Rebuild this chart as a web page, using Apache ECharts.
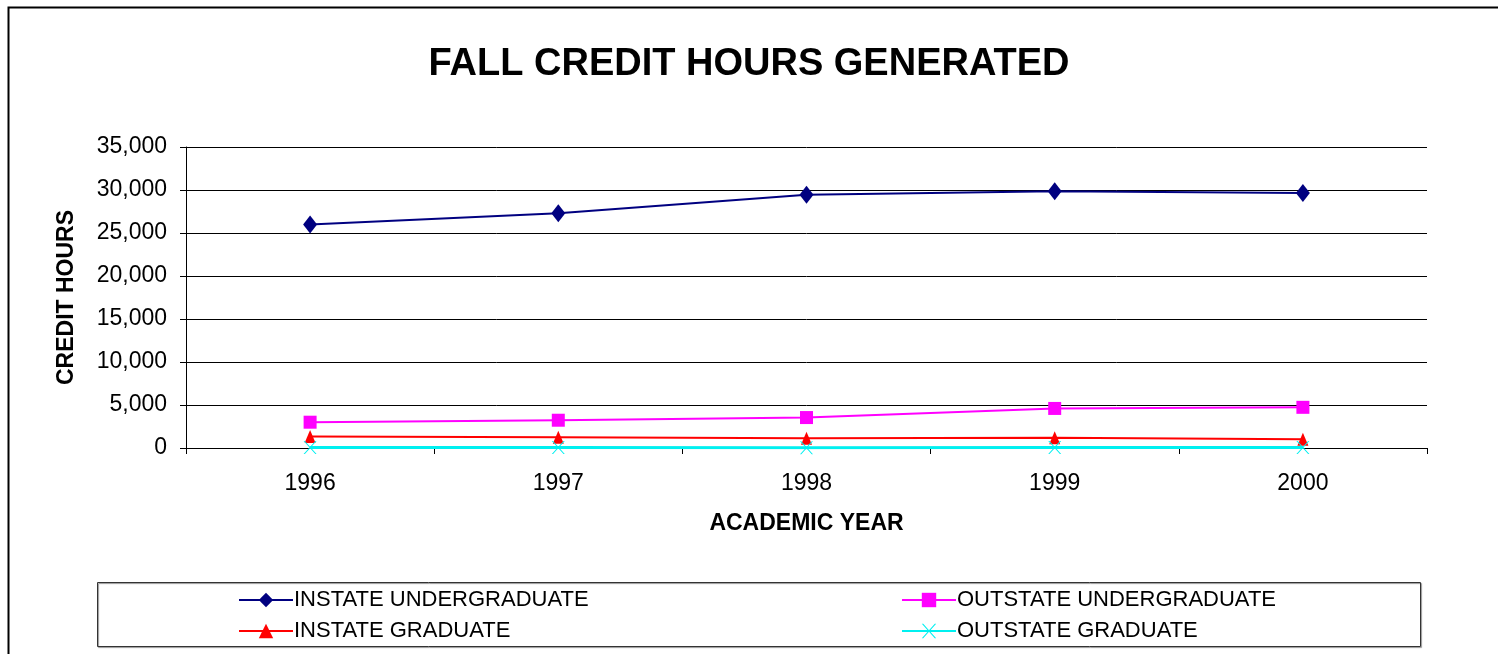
<!DOCTYPE html>
<html lang="en">
<head>
	<meta charset="utf-8">
	<title>Fall Credit Hours Generated</title>
	<script src="https://cdn.jsdelivr.net/npm/echarts@6/dist/echarts.min.js"></script>
	<style>
		html, body { margin: 0; padding: 0; background: #fff; }
		#chart { width: 1498px; height: 654px; }
	</style>
</head>
<body>
<div id="chart"></div>
<script>
// values
var years = ['1996', '1997', '1998', '1999', '2000'];
var instateUndergrad = [26000, 27300, 29450, 29850, 29650];
var outstateUndergrad = [3000, 3230, 3540, 4600, 4730];
var instateGrad = [1340, 1260, 1140, 1180, 1020];
var outstateGrad = [60, 50, 40, 50, 50];
var yTicks = [0, 5000, 10000, 15000, 20000, 25000, 30000, 35000];

var font = '"Liberation Sans", Arial, sans-serif';

function lineSeries(name, data, color, symbol, size, width) {
	return {
		name: name,
		type: 'line',
		data: data,
		symbol: symbol,
		symbolSize: size,
		lineStyle: { color: color, width: width || 2 },
		itemStyle: { color: color },
		animation: false
	};
}

function legendAt(name, left, top) {
	return {
		data: [name],
		left: left,
		top: top,
		itemWidth: 54,
		itemHeight: 18,
		itemGap: 0,
		textStyle: { fontFamily: font, fontSize: 22, color: '#000', padding: [0, 0, 0, -4] }
	};
}

echarts.init(document.getElementById('chart')).setOption({
	backgroundColor: '#fff',
	title: {
		text: 'FALL CREDIT HOURS GENERATED',
		left: 'center',
		top: 41,
		textStyle: { fontFamily: font, fontSize: 38, fontWeight: 'bold', color: '#000' }
	},
	grid: { left: 186, right: 71, top: 147, bottom: 206 },
	xAxis: {
		type: 'category',
		data: years,
		boundaryGap: true,
		name: 'ACADEMIC YEAR',
		nameLocation: 'middle',
		nameGap: 64,
		nameTextStyle: { fontFamily: font, fontSize: 23, fontWeight: 'bold', color: '#000' },
		axisLine: { lineStyle: { color: '#000', width: 1 } },
		axisTick: { show: true, inside: false, length: 6, lineStyle: { color: '#000' } },
		axisLabel: { fontFamily: font, fontSize: 23, color: '#000', margin: 24 },
		splitLine: { show: false }
	},
	yAxis: {
		type: 'value',
		min: yTicks[0],
		max: yTicks[yTicks.length - 1],
		interval: 5000,
		name: 'CREDIT HOURS',
		nameLocation: 'middle',
		nameGap: 108,
		nameRotate: 90,
		nameTextStyle: { fontFamily: font, fontSize: 23, fontWeight: 'bold', color: '#000' },
		axisLine: { show: true, lineStyle: { color: '#000', width: 1 } },
		axisTick: { show: true, length: 6, lineStyle: { color: '#000' } },
		axisLabel: {
			fontFamily: font, fontSize: 23, color: '#000', margin: 19,
			formatter: function (v) { return v.toLocaleString('en-US'); }
		},
		splitLine: { show: true, lineStyle: { color: '#000', width: 1 } }
	},
	legend: [
		legendAt('INSTATE UNDERGRADUATE', 233, 584),
		legendAt('OUTSTATE UNDERGRADUATE', 896, 584),
		legendAt('INSTATE GRADUATE', 233, 615),
		legendAt('OUTSTATE GRADUATE', 896, 615)
	],
	graphic: [
		{
			type: 'rect',
			shape: { x: 8.5, y: 7.5, width: 1600, height: 800 },
			style: { fill: 'none', stroke: '#000', lineWidth: 2 },
			silent: true
		},
		{
			type: 'rect',
			shape: { x: 97.5, y: 582.5, width: 1323, height: 64 },
			style: { fill: 'none', stroke: '#333', lineWidth: 1, shadowColor: 'rgba(0,0,0,0.45)', shadowOffsetX: 1, shadowOffsetY: 1, shadowBlur: 1 },
			silent: true
		}
	],
	series: [
		lineSeries('INSTATE UNDERGRADUATE', instateUndergrad, '#000080', 'diamond', [14, 18]),
		lineSeries('OUTSTATE UNDERGRADUATE', outstateUndergrad, '#ff00ff', 'rect', 13),
		lineSeries('INSTATE GRADUATE', instateGrad, '#ff0000', 'triangle', [11, 13]),
		lineSeries('OUTSTATE GRADUATE', outstateGrad, '#00f0f0',
			'path://M0,0 L2,0 L10,8 L18,0 L20,0 L11,9 L20,18 L18,18 L10,10 L2,18 L0,18 L9,9 Z', 13, 3)
	]
});
</script>
</body>
</html>
